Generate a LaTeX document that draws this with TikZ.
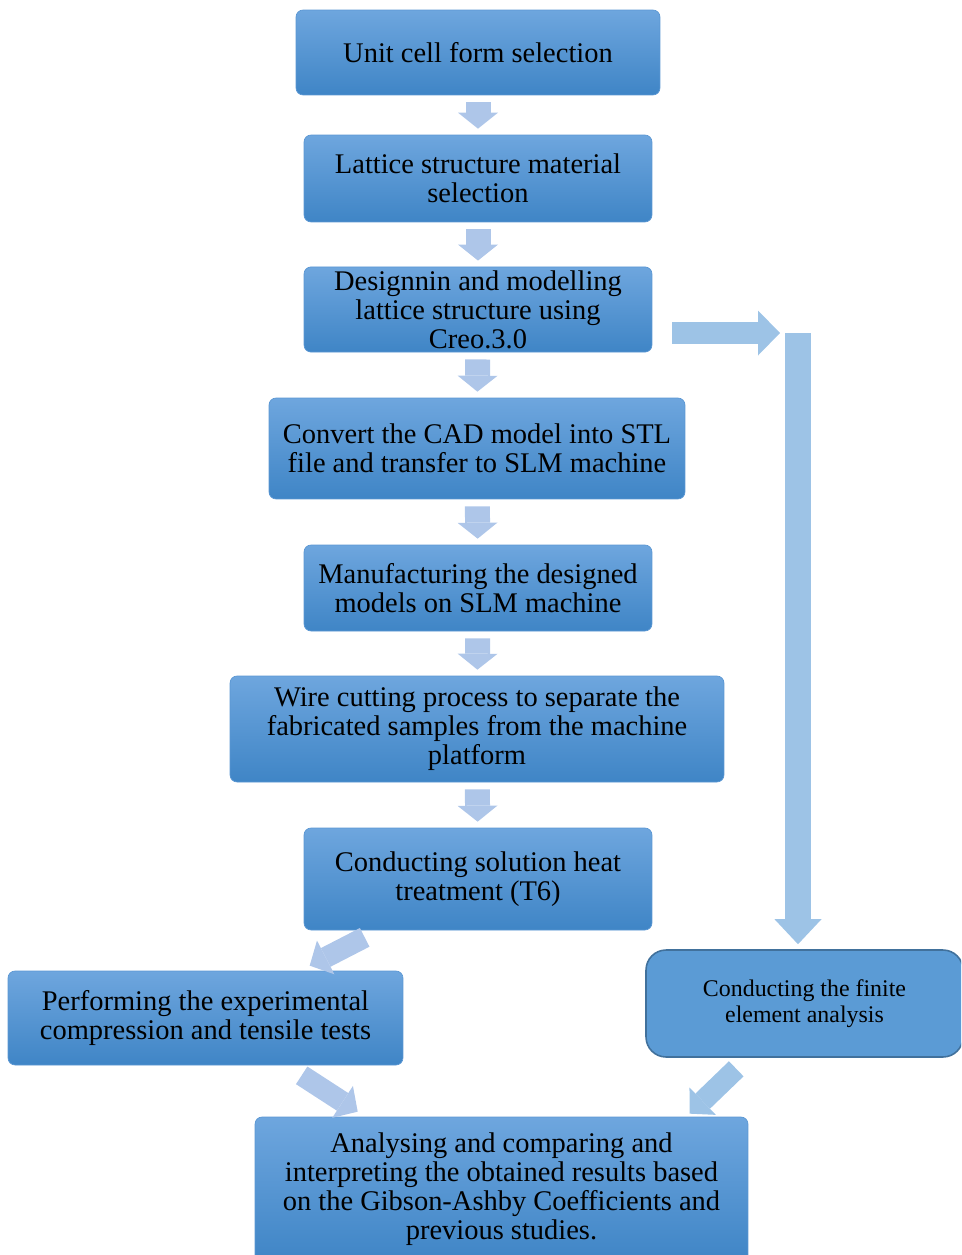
\documentclass[tikz,border=0pt]{standalone}
\usepackage{xcolor}
\definecolor{boxTop}{HTML}{6EA6DE}
\definecolor{boxBottom}{HTML}{3F85C6}
\definecolor{boxEdge}{HTML}{5B97D3}
\definecolor{feaFill}{HTML}{5B9BD5}
\definecolor{feaEdge}{HTML}{41719C}
\definecolor{stepArrow}{HTML}{AEC6E9}
\definecolor{bigArrow}{HTML}{9DC3E6}
\usepackage{fontspec}
\setmainfont{Liberation Serif}
\usepackage{tikz}
\usetikzlibrary{arrows.meta,calc}

\begin{document}
\begin{tikzpicture}[x=0.02cm, y=-0.02cm,
    flowbox/.style={top color=boxTop, bottom color=boxBottom, draw=boxEdge, thin,
                    rounded corners=4pt, inner sep=2pt, align=center,
                    font=\fontsize{16.2}{16.5}\selectfont},
    stepflow/.style={stepArrow, line width=0.5cm, shorten <=0.14cm, shorten >=0.12cm,
                     -{Triangle[length=0.32cm, width=0.8cm, line width=0pt]}},
    sideflow/.style={stepArrow, line width=0.42cm,
                     -{Triangle[length=0.36cm, width=0.76cm, line width=0pt]}}]

    % Page frame
    \useasboundingbox (0,0) rectangle (961,1255);
    \clip (0,0) rectangle (961,1255);

    % Main process column
    \node (UnitCell) [flowbox, minimum width=7.28cm, minimum height=1.7cm] at (478,52.5)
        {Unit cell form selection};
    \node (Lattice) [flowbox, minimum width=6.96cm, minimum height=1.74cm] at (478,178.5)
        {Lattice structure material\\selection};
    \node (Design) [flowbox, minimum width=6.96cm, minimum height=1.7cm] at (478,309.5)
        {Designnin and modelling\\lattice structure using\\Creo.3.0};
    \node (Convert) [flowbox, minimum width=8.32cm, minimum height=2.02cm] at (477,448.5)
        {Convert the CAD model into STL\\file and transfer to SLM machine};
    \node (Manufacture) [flowbox, minimum width=6.96cm, minimum height=1.72cm] at (478,588)
        {Manufacturing the designed\\models on SLM machine};
    \node (WireCut) [flowbox, minimum width=9.88cm, minimum height=2.12cm] at (477,729)
        {Wire cutting process to separate the\\fabricated samples from the machine\\platform};
    \node (HeatTreat) [flowbox, minimum width=6.96cm, minimum height=2.04cm] at (478,879)
        {Conducting solution heat\\treatment (T6)};

    % Test branches
    \node (Experiment) [flowbox, minimum width=7.9cm, minimum height=1.88cm] at (205.5,1018)
        {Performing the experimental\\compression and tensile tests};
    \node (FEA) [fill=feaFill, draw=feaEdge, line width=0.9pt, rounded corners=0.4cm,
                 align=center, font=\fontsize{13.6}{15}\selectfont,
                 minimum width=6.34cm, minimum height=2.14cm] at (804.5,1003.5)
        {Conducting the finite\\element analysis};

    % Final result box
    \node (Analysis) [flowbox, minimum width=9.86cm, minimum height=2.9cm] at (501.5,1189.5)
        {Analysing and comparing and\\interpreting the obtained results based\\on the Gibson-Ashby Coefficients and\\previous studies.};

    % Step arrows down the column
    \foreach \a/\b in {UnitCell/Lattice, Lattice/Design, Design/Convert, Convert/Manufacture,
                       Manufacture/WireCut, WireCut/HeatTreat} {
        \draw[stepflow] (\a) -- (\b);
    }

    % Side path to finite element analysis
    \coordinate (Turn) at (780,333);
    \coordinate (Drop) at (798,333);
    \draw[bigArrow, line width=0.44cm, shorten <=0.4cm,
          -{Triangle[length=0.44cm, width=0.9cm, line width=0pt]}] (Design.east |- Turn) -- (Turn);
    \draw[bigArrow, line width=0.52cm, shorten >=0.1cm,
          -{Triangle[length=0.5cm, width=0.94cm, line width=0pt]}] (Drop) -- (Drop |- FEA.north);

    % Branch and merge arrows
    \draw[sideflow] ($(HeatTreat.south west)+(61,7)$) -- ($(Experiment.north west)+(302,-5)$);
    \draw[sideflow] ($(Experiment.south west)+(294,10)$) -- ($(Analysis.north west)+(103,-5)$);
    \draw[sideflow, bigArrow] ($(FEA.south west)+(91,11)$) -- ($(Analysis.north west)+(435,-3)$);

\end{tikzpicture}
\end{document}
